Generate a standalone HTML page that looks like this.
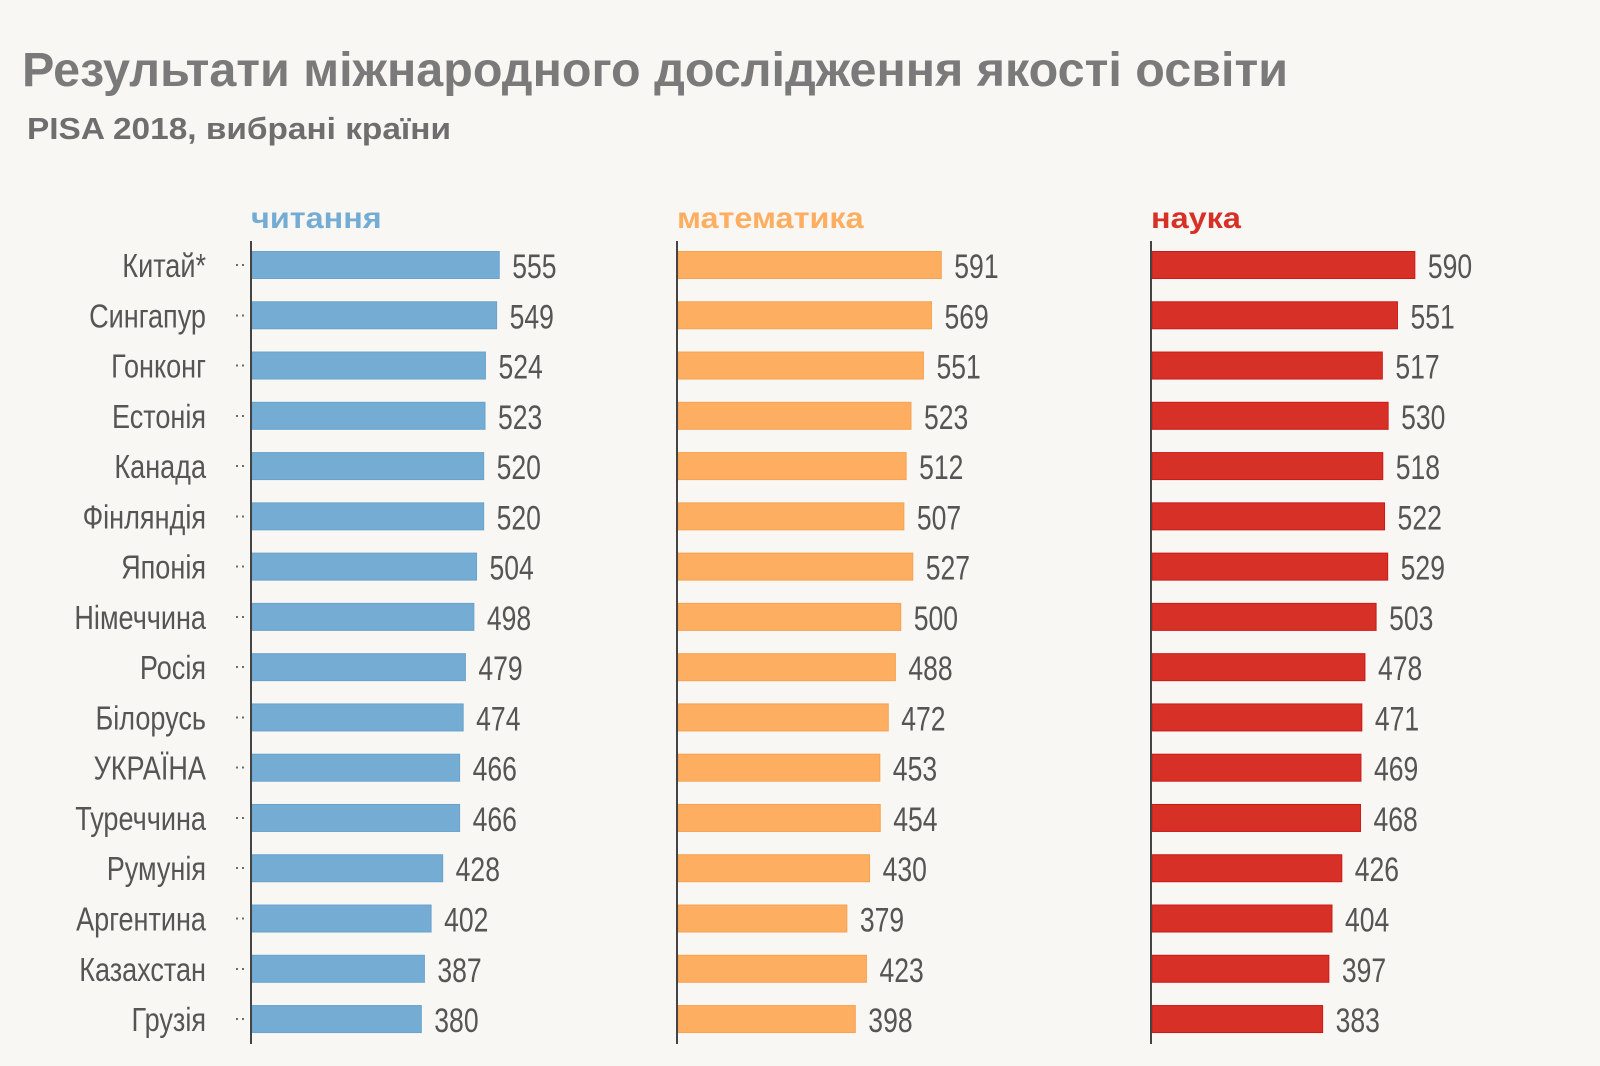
<!DOCTYPE html>
<html><head><meta charset="utf-8">
<style>
html,body{margin:0;padding:0;background:#f8f7f3;}
svg{display:block;}
text{font-family:"Liberation Sans Narrow","Liberation Sans","DejaVu Sans",sans-serif;}
</style></head>
<body>
<svg id="chart" width="1600" height="1066" viewBox="0 0 1600 1066" xmlns="http://www.w3.org/2000/svg">
<rect width="1600" height="1066" fill="#f8f7f3"/>
<text x="22" y="86" font-size="48" font-weight="bold" fill="#7a7a7a" textLength="1266" lengthAdjust="spacingAndGlyphs" style="font-family:'Liberation Sans',sans-serif">Результати міжнародного дослідження якості освіти</text>
<text x="27" y="139" font-size="31" font-weight="bold" fill="#6e6e6e" textLength="424" lengthAdjust="spacingAndGlyphs" style="font-family:'Liberation Sans',sans-serif">PISA 2018, вибрані країни</text>
<g id="plot"></g>
</svg>
<script>
const countries = ["Китай*","Сингапур","Гонконг","Естонія","Канада","Фінляндія","Японія","Німеччина","Росія","Білорусь","УКРАЇНА","Туреччина","Румунія","Аргентина","Казахстан","Грузія"];
const reading = [555,549,524,523,520,520,504,498,479,474,466,466,428,402,387,380];
const math = [591,569,551,523,512,507,527,500,488,472,453,454,430,379,423,398];
const science = [590,551,517,530,518,522,529,503,478,471,469,468,426,404,397,383];
const seriesNames = ["читання","математика","наука"];

const NS = "http://www.w3.org/2000/svg";
const g = document.getElementById('plot');
const axisX = [251, 677, 1151];
const colors = ["#74acd3", "#fdae61", "#d73027"];
const strokes = ["#6aa3cc", "#f5a352", "#cc1a1a"];
const seriesData = [reading, math, science];
const keys = ["reading","math","science"];
const pxPerUnit = 0.4455;
const rowY = i => 265 + i * 50.27;
const xLen = v => v * pxPerUnit;
const barH = 27;

function mk(tag, attrs, text) {
  const e = document.createElementNS(NS, tag);
  for (const k in attrs) e.setAttribute(k, attrs[k]);
  if (text !== undefined) e.textContent = text;
  g.appendChild(e);
  return e;
}
function squeeze(t, f) {
  const w = t.getComputedTextLength();
  t.setAttribute('textLength', (w * f).toFixed(1));
  t.setAttribute('lengthAdjust', 'spacingAndGlyphs');
}

countries.forEach((c, i) => {
  const t = mk('text', {x: 206, y: rowY(i) + 12, 'font-size': 33, fill: '#555', 'text-anchor': 'end'}, c);
  
  
  squeeze(t, 0.82);
});

seriesData.forEach((data, s) => {
  const x0 = axisX[s];
  const h = mk('text', {x: x0, y: 228, 'font-size': 30, 'font-weight': 'bold', fill: colors[s], style: "font-family:'Liberation Sans',sans-serif"}, seriesNames[s]);
  
  
  squeeze(h, 1.08);
  data.forEach((v, i) => {
    const y = rowY(i);
    const r = mk('rect', {x: x0 + 1, y: y - barH / 2, width: xLen(v), height: barH, fill: colors[s], stroke: strokes[s], 'stroke-width': 1});
    
    
    const t = mk('text', {x: x0 + xLen(v) + 14, y: y + 13, 'font-size': 34, fill: '#555'}, String(v));
    
    
    squeeze(t, 0.78);
    if (s === 0) {
      const d = mk('text', {x: 234, y: y + 5, 'font-size': 18, fill: '#555'}, '··');
      
      
    }
  });
  const ax = mk('line', {x1: x0, x2: x0, y1: 241, y2: 1044, stroke: '#444', 'stroke-width': 2});
  
  
});
</script>
</body></html>
